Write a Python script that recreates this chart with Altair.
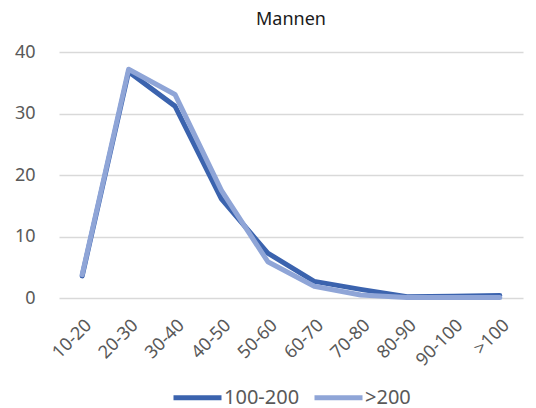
import altair as alt
import pandas as pd

categories = ["10-20", "20-30", "30-40", "40-50", "50-60", "60-70", "70-80", "80-90", "90-100", ">100"]
series_a_name = "100-200"
series_a = [3.6, 36.8, 31.2, 16.1, 7.3, 2.7, 1.4, 0.2, 0.3, 0.4]
series_b_name = ">200"
series_b = [3.8, 37.2, 33.1, 17.5, 5.9, 1.9, 0.5, 0.1, 0.1, 0.1]
colors = ["#3b63ae", "#8fa5d7"]

rows = []
for i, c in enumerate(categories):
    rows.append({"cat": c, "serie": series_a_name, "val": series_a[i], "ord": 0})
    rows.append({"cat": c, "serie": series_b_name, "val": series_b[i], "ord": 1})
df = pd.DataFrame(rows)

FONT = "Noto Sans"

chart = alt.Chart(df).mark_line(strokeWidth=5, strokeCap="round", strokeJoin="round").encode(
    x=alt.X("cat:N", sort=categories, title=None,
            scale=alt.Scale(paddingInner=0, paddingOuter=0.5),
            axis=alt.Axis(labelAngle=-45, domain=False, ticks=False, labelPadding=18,
                          labelFontSize=18, labelColor="#595959", labelFont=FONT)),
    y=alt.Y("val:Q", title=None, scale=alt.Scale(domain=[0, 40]),
            axis=alt.Axis(values=[0, 10, 20, 30, 40], domain=False, ticks=False, labelPadding=24,
                          labelFontSize=18, labelColor="#595959", labelFont=FONT,
                          gridColor="#d9d9d9", gridWidth=1.3)),
    color=alt.Color("serie:N", sort=[series_a_name, series_b_name],
                    scale=alt.Scale(domain=[series_a_name, series_b_name], range=colors),
                    legend=alt.Legend(title=None, orient="none", direction="horizontal",
                                      legendX=112, legendY=319,
                                      symbolType="stroke", symbolSize=2304, symbolStrokeWidth=5,
                                      labelFontSize=20, labelColor="#595959", labelFont=FONT,
                                      columnPadding=4, labelOffset=0)),
    order=alt.Order("ord:Q"),
    detail="serie:N",
).properties(
    width=464, height=246,
    title=alt.TitleParams("Mannen", fontSize=18, font=FONT, fontWeight="normal", color="#1a1a1a", offset=14),
    padding={"left": 51, "top": 44, "right": 5, "bottom": 108},
    autosize=alt.AutoSizeParams(type="none"),
).configure_view(stroke=None)

chart.save("out.html", embed_options={"renderer": "svg", "actions": False})
